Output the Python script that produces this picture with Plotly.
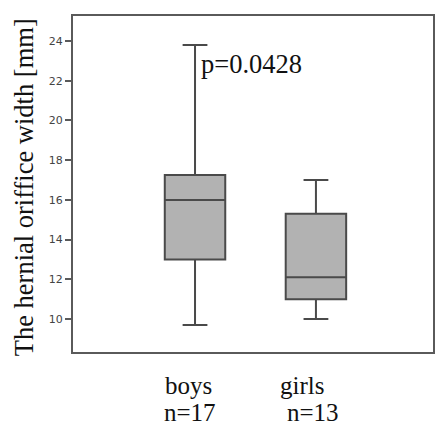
import plotly.graph_objects as go

categories = [0, 1]
group_names = ["boys", "girls"]
group_n = ["n=17", "n=13"]
q1 = [13.0, 11.0]
median = [16.0, 12.1]
q3 = [17.25, 15.3]
lowerfence = [9.7, 10.0]
upperfence = [23.8, 17.0]
yticks = [10, 12, 14, 16, 18, 20, 22, 24]
p_text = "p=0.0428"

W, H = 437, 427
L, R, T, B = 73, 2, 16, 75
pw = W - L - R
ph = H - T - B

fig = go.Figure()
fig.add_trace(go.Box(
    x=categories, q1=q1, median=median, q3=q3,
    lowerfence=lowerfence, upperfence=upperfence,
    width=0.5, whiskerwidth=0.41,
    fillcolor="#b2b2b2", line=dict(color="#4a4a4a", width=2),
    boxpoints=False, hoverinfo="skip", showlegend=False,
))

serif = "Liberation Serif, Times New Roman, serif"

def px2paper_x(px):
    return (px - L) / pw

def px2paper_y(py):
    return 1 - (py - T) / ph

ann = []
label_left_px = [(165, 164), (280, 287)]
for i in range(2):
    ann.append(dict(text=group_names[i], x=px2paper_x(label_left_px[i][0]), y=px2paper_y(385),
                    xref="paper", yref="paper", xanchor="left", yanchor="middle",
                    showarrow=False, borderpad=0, font=dict(family=serif, size=25, color="#111")))
    ann.append(dict(text=group_n[i], x=px2paper_x(label_left_px[i][1]), y=px2paper_y(412),
                    xref="paper", yref="paper", xanchor="left", yanchor="middle",
                    showarrow=False, borderpad=0, font=dict(family=serif, size=25, color="#111")))
ann.append(dict(text=p_text, x=px2paper_x(200), y=px2paper_y(64), xref="paper", yref="paper",
                xanchor="left", yanchor="middle", showarrow=False,
                font=dict(family=serif, size=26.5, color="#111")))
ann.append(dict(text="The hernial oriffice width [mm]", x=px2paper_x(24), y=px2paper_y(187),
                xref="paper", yref="paper", xanchor="center", yanchor="middle", textangle=-90,
                showarrow=False, font=dict(family=serif, size=26.5, color="#111")))

fig.update_layout(
    width=W, height=H,
    margin=dict(l=L, r=R, t=T, b=B),
    paper_bgcolor="white", plot_bgcolor="white",
    annotations=ann,
    xaxis=dict(range=[-1.009, 1.968], showticklabels=False, ticks="", showgrid=False,
               zeroline=False, showline=True, mirror=True, linecolor="#5a5a5a", linewidth=2),
    yaxis=dict(range=[8.34, 25.26], tickvals=yticks, ticks="outside", ticklen=6,
               tickcolor="#5a5a5a", tickwidth=1.5,
               tickfont=dict(family="DejaVu Sans, sans-serif", size=11, color="#444"),
               showgrid=False, zeroline=False, showline=True, mirror=True,
               linecolor="#5a5a5a", linewidth=2),
)

fig.write_html("out.html", config={"displayModeBar": False},
               post_script="document.body.style.margin='0px';document.body.style.overflow='hidden';")
